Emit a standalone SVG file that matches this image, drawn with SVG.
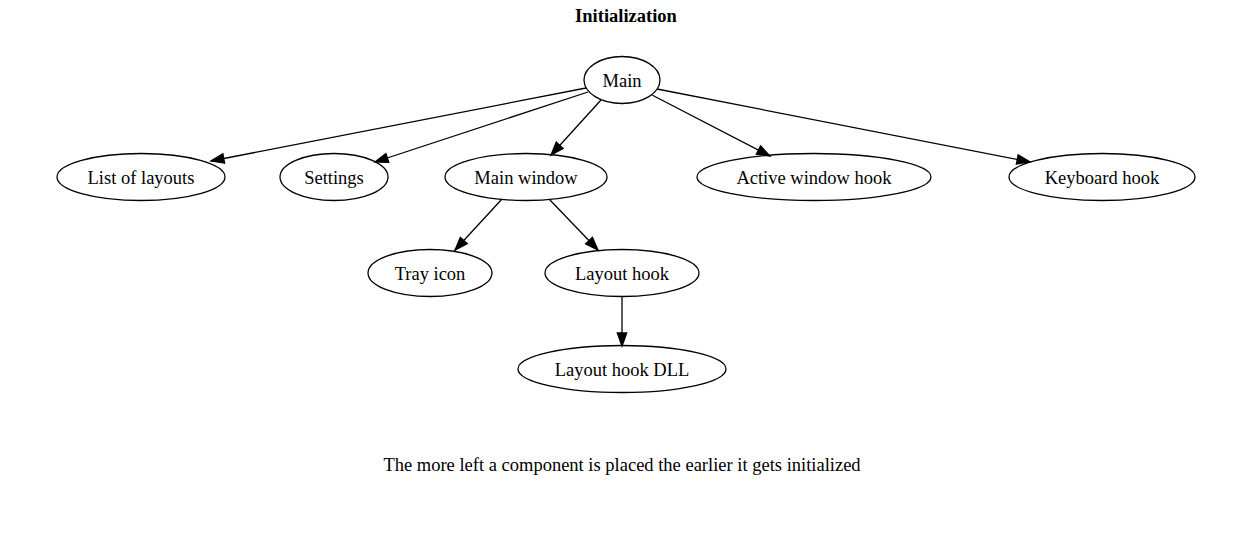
<svg xmlns="http://www.w3.org/2000/svg" width="1252" height="545" viewBox="0 0 1252 545">
<style>
.n ellipse{fill:none;stroke:#000;stroke-width:1.3}
text{font-family:"Liberation Serif","Times New Roman",serif;font-size:18.5px;fill:#000;text-anchor:middle}
.e line{stroke:#000;stroke-width:1.3;marker-end:url(#arr)}
</style>
<defs>
<marker id="arr" markerUnits="userSpaceOnUse" markerWidth="14" markerHeight="10" refX="13" refY="4.7" orient="auto" overflow="visible">
<path d="M0,0 L13,4.7 L0,9.4 z" fill="#000" stroke="#000" stroke-width="1.3"/>
</marker>
</defs>
<rect width="1252" height="545" fill="#fff"/>
<text x="626" y="22" font-weight="bold">Initialization</text>
<g class="e" id="edges">
<line x1="586" y1="88" x2="211" y2="161"/>
<line x1="588" y1="92" x2="375" y2="162"/>
<line x1="601" y1="100" x2="551" y2="155"/>
<line x1="652" y1="95" x2="770" y2="156"/>
<line x1="657" y1="89" x2="1030" y2="162"/>
<line x1="502" y1="199" x2="455" y2="250"/>
<line x1="549" y1="199" x2="598" y2="250"/>
<line x1="622" y1="296" x2="622" y2="346"/>
</g>
<g class="n" id="main"><ellipse cx="622" cy="80" rx="38" ry="23.5"/><text x="622" y="86.5">Main</text></g>
<g class="n" id="list"><ellipse cx="141" cy="177" rx="84" ry="23.5"/><text x="141" y="183.5">List of layouts</text></g>
<g class="n" id="settings"><ellipse cx="334" cy="177" rx="54" ry="23.5"/><text x="334" y="183.5">Settings</text></g>
<g class="n" id="mainwindow"><ellipse cx="526" cy="177" rx="81" ry="23.5"/><text x="526" y="183.5">Main window</text></g>
<g class="n" id="active"><ellipse cx="814" cy="177" rx="117" ry="23.5"/><text x="814" y="183.5">Active window hook</text></g>
<g class="n" id="keyboard"><ellipse cx="1102" cy="177" rx="93" ry="23.5"/><text x="1102" y="183.5">Keyboard hook</text></g>
<g class="n" id="tray"><ellipse cx="430" cy="273" rx="62" ry="23.5"/><text x="430" y="279.5">Tray icon</text></g>
<g class="n" id="layouthook"><ellipse cx="622" cy="273" rx="77" ry="23.5"/><text x="622" y="279.5">Layout hook</text></g>
<g class="n" id="dll"><ellipse cx="622" cy="369" rx="104" ry="23.5"/><text x="622" y="375.5">Layout hook DLL</text></g>
<text x="622" y="471">The more left a component is placed the earlier it gets initialized</text>
</svg>
